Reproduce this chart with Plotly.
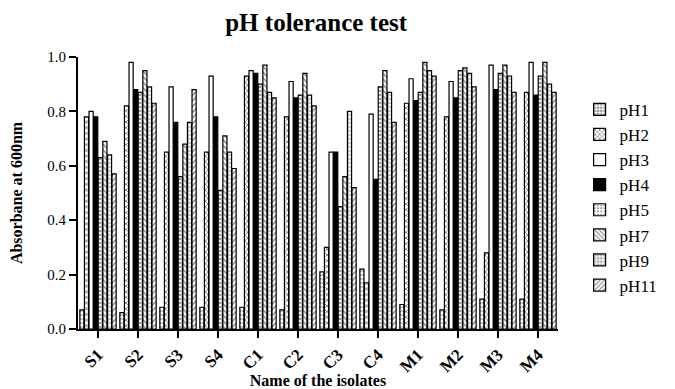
import plotly.graph_objects as go

isolates = ["S1", "S2", "S3", "S4", "C1", "C2", "C3", "C4", "M1", "M2", "M3", "M4"]
series_names = ["pH1", "pH2", "pH3", "pH4", "pH5", "pH7", "pH9", "pH11"]

pH1 = [0.07, 0.06, 0.08, 0.08, 0.08, 0.07, 0.21, 0.22, 0.09, 0.07, 0.11, 0.11]
pH2 = [0.78, 0.82, 0.65, 0.65, 0.93, 0.78, 0.30, 0.17, 0.83, 0.78, 0.28, 0.87]
pH3 = [0.80, 0.98, 0.89, 0.93, 0.95, 0.91, 0.65, 0.79, 0.92, 0.91, 0.97, 0.98]
pH4 = [0.78, 0.88, 0.76, 0.78, 0.94, 0.85, 0.65, 0.55, 0.84, 0.85, 0.88, 0.86]
pH5 = [0.63, 0.87, 0.56, 0.51, 0.90, 0.86, 0.45, 0.89, 0.87, 0.95, 0.94, 0.93]
pH7 = [0.69, 0.95, 0.68, 0.71, 0.97, 0.94, 0.56, 0.95, 0.98, 0.96, 0.97, 0.98]
pH9 = [0.64, 0.89, 0.76, 0.65, 0.87, 0.86, 0.80, 0.87, 0.95, 0.94, 0.93, 0.90]
pH11 = [0.57, 0.83, 0.88, 0.59, 0.85, 0.82, 0.52, 0.76, 0.93, 0.89, 0.87, 0.87]

y_ticks = [0.0, 0.2, 0.4, 0.6, 0.8, 1.0]

values = [pH1, pH2, pH3, pH4, pH5, pH7, pH9, pH11]
styles = [
    dict(bg="white", fg="#222222", shape=".", sol=0.5),
    dict(bg="white", fg="black", shape="x", sol=0.4),
    dict(bg="white", fg="white", shape="", sol=0.3),
    dict(bg="black", fg="black", shape="", sol=0.3),
    dict(bg="white", fg="#333333", shape=".", sol=0.3),
    dict(bg="white", fg="#222222", shape="\\", sol=0.4),
    dict(bg="white", fg="#222222", shape="+", sol=0.4),
    dict(bg="white", fg="#222222", shape="/", sol=0.4),
]

FONT = "Liberation Serif"
fig = go.Figure()
for name, vals, st in zip(series_names, values, styles):
    fig.add_trace(go.Bar(
        x=isolates, y=vals, name=name, legendgroup=name,
        marker=dict(
            color=st["bg"],
            line=dict(color="black", width=1.2),
            pattern=dict(shape=st["shape"], fgcolor=st["fg"], bgcolor=st["bg"],
                         size=4, solidity=st["sol"], fillmode="overlay"),
        ),
    ))

# The page body adds an 8px offset, so the figure is 8px smaller in each direction.
fig.update_layout(
    width=667, height=381,
    margin=dict(l=70, r=107, t=49, b=60),
    paper_bgcolor="white", plot_bgcolor="white",
    barmode="group", bargap=0.08, bargroupgap=0.1,
    title=dict(text="<b>pH tolerance test</b>", x=0.462, xanchor="center",
               y=0.963, yanchor="middle",
               font=dict(family=FONT, size=25, color="black")),
    font=dict(family=FONT, color="black"),
    legend=dict(x=1.045, y=0.872, xanchor="left", yanchor="top",
                font=dict(family=FONT, size=17, color="black"),
                tracegroupgap=0, bgcolor="rgba(0,0,0,0)"),
    xaxis=dict(
        automargin=False,
        showline=True, linecolor="black", linewidth=2,
        ticks="outside", ticklen=7, tickwidth=2, tickcolor="black",
        tickangle=-45, tickfont=dict(family=FONT, size=17, color="black"),
        title=dict(text="<b>Name of the isolates</b>", standoff=0,
                   font=dict(family=FONT, size=16, color="black")),
        tickprefix="<b>", ticksuffix="</b>",
        range=[-0.5, 11.5],
    ),
    yaxis=dict(
        automargin=False,
        range=[0, 1.0], tickvals=y_ticks, tickformat=".1f",
        showline=True, linecolor="black", linewidth=2,
        ticks="outside", ticklen=7, tickwidth=2, tickcolor="black",
        showgrid=False, zeroline=False,
        tickfont=dict(family=FONT, size=15, color="black"),
        tickprefix="<b>", ticksuffix="</b>",
        title=dict(text="<b>Absorbane at 600nm</b>", standoff=28,
                   font=dict(family=FONT, size=16, color="black")),
    ),
)

fig.write_html("out.html", config={"displayModeBar": False})
